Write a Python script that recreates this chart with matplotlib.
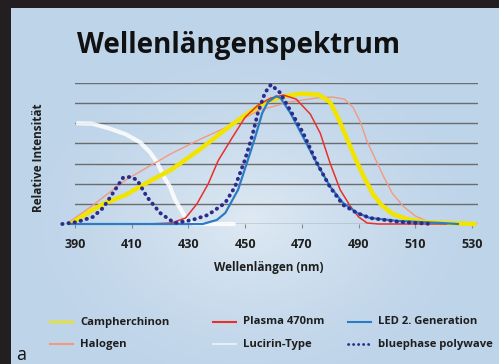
import numpy as np
import matplotlib
matplotlib.use("Agg")
import matplotlib.pyplot as plt
from matplotlib.lines import Line2D
from matplotlib.patches import Rectangle

plt.rcParams['font.family'] = ['Open Sans', 'DejaVu Sans']

# ---------------- data (y in grid units) ----------------
ticks_nm = [390, 410, 430, 450, 470, 490, 510, 530]

camph_nm = [389, 395, 400, 408, 416, 424, 434, 445, 452, 458, 464, 470, 476, 480,
            483, 486, 489, 492, 495, 498, 502, 507, 513, 520, 531]
camph_y = [0.05, 0.6, 1.0, 1.45, 2.1, 2.7, 3.7, 4.9, 5.6, 6.1, 6.35, 6.47, 6.42, 6.05,
           5.2, 4.2, 3.2, 2.3, 1.5, 0.95, 0.5, 0.25, 0.1, 0.05, 0.0]

halo_nm = [388, 396, 408, 416, 424, 434, 445, 455, 466, 476, 481, 485, 488, 490.5,
           493, 496, 499, 502, 506, 510, 514, 520, 524]
halo_y = [0.1, 0.9, 2.2, 2.85, 3.5, 4.2, 4.9, 5.65, 6.07, 6.27, 6.3, 6.2, 5.8, 5.1,
          4.1, 3.2, 2.3, 1.5, 0.85, 0.4, 0.15, 0.03, 0.0]

plasma_nm = [416, 424, 429, 433, 437, 440.5, 445.5, 450, 454.5, 459, 463.5, 468, 473,
             476.5, 480, 483.5, 487, 490, 493, 497, 521]
plasma_y = [0.0, 0.05, 0.3, 1.0, 2.0, 3.15, 4.3, 5.3, 5.9, 6.25, 6.4, 6.2, 5.45,
            4.5, 3.0, 1.7, 0.9, 0.35, 0.05, 0.0, 0.0]

luci_nm = [391, 396, 402, 408, 413, 416.5, 419, 421.5, 423.5, 425.3, 427, 429.5, 432, 446]
luci_y = [5.0, 4.98, 4.75, 4.45, 4.05, 3.55, 3.05, 2.3, 1.85, 1.2, 0.8, 0.2, 0.0, 0.0]

led_nm = [388, 435, 440, 443, 447.5, 451, 453.5, 456, 458, 461, 462.5, 466, 470.5,
          475.3, 480, 484.5, 489.5, 494, 504, 519, 525]
led_y = [0.0, 0.0, 0.2, 0.55, 1.7, 3.2, 4.3, 5.5, 6.05, 6.35, 6.25, 5.5, 4.3,
         3.0, 1.85, 1.05, 0.55, 0.3, 0.15, 0.05, 0.0]

blue_nm = [385.5, 390.7, 396.3, 399.9, 403.4, 406.9, 409.4, 411.9, 415.4, 420, 423.5,
           425.3, 431.3, 436.9, 442.9, 446.4, 449.9, 452.4, 454.5, 457, 459.1, 462.3,
           465.8, 470.4, 475.3, 479.9, 484.5, 489.4, 494, 504.6, 516]
blue_y = [0.0, 0.1, 0.35, 0.8, 1.54, 2.29, 2.34, 2.19, 1.34, 0.55, 0.2,
          0.05, 0.2, 0.45, 1.04, 1.84, 3.18, 4.33, 5.52, 6.52, 6.92, 6.52,
          5.67, 4.53, 3.03, 1.84, 0.95, 0.55, 0.3, 0.1, 0.0]

# ---------------- figure ----------------
W, H = 499, 364
fig = plt.figure(figsize=(W / 100, H / 100), dpi=100)

# background: light blue with a pale glow
bg = fig.add_axes([0, 0, 1, 1], zorder=-10)
yy, xx = np.mgrid[0:H, 0:W]
d = np.sqrt(((xx - 250) / 240.0) ** 2 + ((yy - 220) / 180.0) ** 2)
glow = np.clip(1 - d, 0, 1) ** 1.5
base = np.array([190, 212, 233]) / 255.0
light = np.array([222, 233, 243]) / 255.0
img = base[None, None, :] * (1 - glow[..., None]) + light[None, None, :] * glow[..., None]
bg.imshow(img, extent=[0, W, H, 0], aspect='auto')
bg.set_xlim(0, W)
bg.set_ylim(H, 0)
bg.axis('off')
fig.add_artist(Rectangle((0, 0), 11 / W, 1, transform=fig.transFigure, color='#231f20', lw=0))
fig.add_artist(Rectangle((0, 1 - 8 / H), 1, 8 / H, transform=fig.transFigure, color='#231f20', lw=0))

ax = fig.add_axes([75 / W, (H - 224) / H, 402.7 / W, 141 / H])
ax.patch.set_alpha(0)
ax.set_xlim(390, 532)
ax.set_ylim(0, 7)
for s in ax.spines.values():
    s.set_visible(False)
ax.set_yticks(range(8))
ax.tick_params(axis='y', left=False, labelleft=False)
ax.grid(axis='y', color='#6c6c6c', lw=1.0)
ax.set_axisbelow(True)
ax.set_xticks(ticks_nm)
ax.tick_params(axis='x', direction='out', length=3, width=0.8, color='#8a8a8a', pad=7,
               labelsize=9, labelcolor='#1e1e1e')
for lab in ax.get_xticklabels():
    lab.set_fontweight('bold')

ax.plot(luci_nm, luci_y, color='white', lw=3.0, alpha=0.85, clip_on=False, solid_capstyle='round')
ax.plot(halo_nm, halo_y, color='#f29a80', lw=1.0, clip_on=False)
ax.plot(camph_nm, camph_y, color='#f0e400', lw=3.2, clip_on=False, solid_capstyle='round')
ax.plot(plasma_nm, plasma_y, color='#e8302a', lw=1.1, clip_on=False)
ax.plot(led_nm, led_y, color='#2b7cc4', lw=1.6, clip_on=False)
ax.plot(blue_nm, blue_y, color='#2c2c8c', lw=2.8, ls=(0, (0.1, 1.5)),
        dash_capstyle='round', clip_on=False)

# texts
fig.text(77 / W, (H - 53) / H, "Wellenlängenspektrum", fontsize=20, fontweight='bold',
         color='#111111', va='baseline', ha='left')
fig.text(39 / W, (H - 158) / H, "Relative Intensität", rotation=90, fontsize=8.5,
         fontweight='bold', color='#1e1e1e', ha='center', va='center')
fig.text(269 / W, (H - 268) / H, "Wellenlängen (nm)", fontsize=8.5,
         fontweight='bold', color='#1e1e1e', ha='center', va='center')
fig.text(16 / W, 4 / H, "a", fontsize=13, color='#111111', ha='left', va='baseline')

# legend
legend_items = [
    ("Campherchinon", 50, 322, dict(color='#f0e400', lw=1.5)),
    ("Halogen", 50, 344, dict(color='#f29a80', lw=1.5)),
    ("Plasma 470nm", 213, 322, dict(color='#e8302a', lw=1.5)),
    ("Lucirin-Type", 213, 344, dict(color='white', lw=1.5, alpha=0.6)),
    ("LED 2. Generation", 348, 322, dict(color='#2b7cc4', lw=1.5)),
    ("bluephase polywave", 348, 344, dict(color='#2c2c8c', lw=2.0, ls=(0, (0.1, 1.7)),
                                          dash_capstyle='round')),
]
for label, x0, y0, style in legend_items:
    fy = (H - y0) / H
    fig.add_artist(Line2D([x0 / W, (x0 + 23) / W], [fy, fy], transform=fig.transFigure, **style))
    fig.text((x0 + 30) / W, fy, label, fontsize=8.1, fontweight='bold', color='#1e1e1e',
             ha='left', va='center')

fig.savefig("out.png", dpi=100)
